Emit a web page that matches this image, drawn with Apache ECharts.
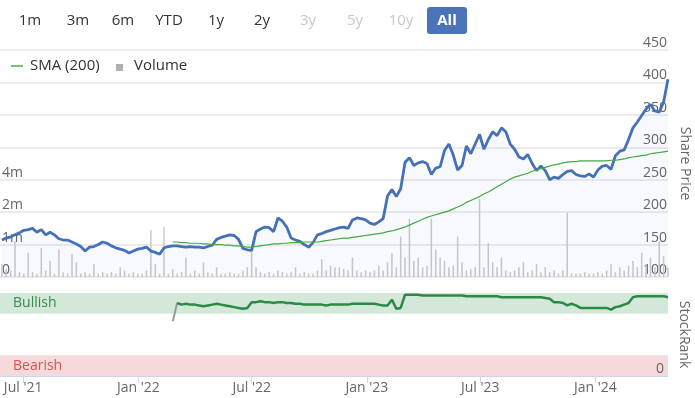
<!DOCTYPE html>
<html>
<head>
<meta charset="utf-8">
<script src="https://cdn.jsdelivr.net/npm/echarts@6/dist/echarts.min.js"></script>
<style>
  html, body { margin: 0; padding: 0; background: #fff; }
  #chart { width: 695px; height: 398px; }
</style>
</head>
<body>
<div id="chart"></div>
<script>
// weekly closes, first week ending 2021-05-28
const weekStart = '2021-05-28';
const priceValues = [
  157,160,162,165,168,172,173,175,169,173,
  165,169,165,159,157,157,154,151,147,140,
  146,147,150,154,152,148,145,143,141,137,
  140,143,144,146,140,138,135,145,147,148,
  148,147,146,147,146,146,145,147,149,158,
  161,163,165,164,158,144,142,141,170,174,
  177,176,170,191,186,177,160,157,155,150,
  146,153,165,167,170,172,174,176,177,175,
  188,191,190,188,183,181,185,190,225,235,
  224,236,277,284,272,276,278,275,258,268,
  270,295,305,288,265,272,302,290,305,320,
  297,312,324,318,330,324,305,297,285,282,
  289,275,264,271,264,250,254,252,258,263,
  264,258,256,255,259,254,265,271,272,266,
  287,294,296,312,330,339,349,359,366,356,
  354,370,405
];
// volume in millions
const volumeValues = [
  0.4,0.25,0.2,1.1,0.15,0.1,0.75,0.15,0.1,0.9,
  0.2,0.5,0.1,0.85,0.15,0.1,0.7,0.45,0.1,0.15,
  0.1,0.4,0.1,0.15,0.1,0.15,0.1,0.3,0.2,0.1,
  0.15,0.1,0.1,0.2,1.45,0.4,0.1,1.55,0.1,0.25,
  0.1,0.15,0.6,0.1,0.2,0.1,0.45,0.15,0.1,0.3,
  0.1,0.1,0.15,0.1,0.1,0.2,0.3,0.85,0.3,0.15,
  0.1,0.15,0.1,0.2,0.15,0.1,0.15,0.3,0.1,0.15,
  0.1,0.1,0.2,0.55,0.2,0.35,0.3,0.3,0.25,0.2,
  0.6,0.2,0.15,0.2,0.15,0.2,0.35,0.2,0.45,0.75,
  0.3,1.25,0.6,1.8,0.5,0.6,0.3,0.35,1.8,0.85,
  0.6,0.5,0.3,0.35,1.25,0.45,0.2,0.25,0.3,2.4,
  0.3,1.05,0.45,0.3,0.6,0.2,0.15,0.2,0.3,0.45,
  0.15,0.2,0.4,0.15,0.3,0.15,0.2,0.1,0.2,2.0,
  0.1,0.1,0.1,0.15,0.1,0.1,0.15,0.1,0.2,0.4,
  0.15,0.3,0.2,0.35,0.5,0.3,0.75,0.4,0.6,0.3,
  1.1,0.65,0.3
];
// SMA(200) and StockRank start at week 39
const smaStartWeek = 39;
const smaValues = [
  154,154,153,153,152,152,152,151,151,150,
  150,150,149,149,148,148,147,146,146,147,
  148,149,150,151,151,152,152,153,153,153,
  154,154,154,154,155,156,157,158,159,160,
  160,161,162,163,164,165,166,167,168,170,
  171,173,175,177,180,183,186,189,192,194,
  196,198,200,202,205,208,211,215,218,221,
  224,228,231,235,239,243,247,251,254,256,
  258,260,263,265,267,269,271,273,274,276,
  277,278,278,279,279,279,279,279,279,279,
  280,280,281,282,284,285,286,287,288,290,
  291,292,293,294
];
const rankValues = [
  66,88,86,87,86,86,85,84,85,86,
  87,86,85,84,83,82,81,82,89,89,
  90,89,89,88,89,89,88,88,87,87,
  86,86,86,86,86,85,86,86,86,86,
  86,87,87,87,87,87,87,86,85,85,
  92,81,82,98,98,98,98,97,97,97,
  97,97,97,97,97,97,97,96,96,96,
  96,96,96,96,96,95,95,95,95,95,
  95,95,95,95,95,94,93,89,89,88,
  85,87,85,82,82,82,82,82,82,82,
  80,83,84,86,88,95,96,96,96,96,
  96,96,96,95
];
const xTickDates = ['2021-07-01','2022-01-01','2022-07-01','2023-01-01','2023-07-01','2024-01-01'];
const xTickLabels = ["Jul '21","Jan '22","Jul '22","Jan '23","Jul '23","Jan '24"];
const volTickLabels = ['0','1m','2m','4m'];
const rangeButtons = ['1m','3m','6m','YTD','1y','2y','3y','5y','10y','All'];
const disabledButtons = ['3y','5y','10y'];

const DAY = 86400000;
const toTime = d => new Date(d + 'T00:00:00Z').getTime();
const t0 = toTime(weekStart);
const weekDates = priceValues.map((_, i) => t0 + i * 7 * DAY);
const tickTimes = xTickDates.map(toTime);
const xMin = toTime('2021-05-25');
const xMax = toTime('2024-04-26');

const priceData = priceValues.map((v, i) => [weekDates[i], v]);
const volumeData = volumeValues.map((v, i) => [weekDates[i], v]);
const smaData = smaValues.map((v, i) => [weekDates[smaStartWeek + i], v]);
const rankData = rankValues.map((v, i) => [weekDates[smaStartWeek + i], v]);

const FONT = '"Open Sans", "DejaVu Sans", sans-serif';

const btnX = [30, 78, 123, 169, 216, 262, 308, 355, 401, 447];
const graphics = [];
rangeButtons.forEach((b, i) => {
  if (b === 'All') {
    graphics.push({ type: 'rect', shape: { x: 427, y: 7, width: 40, height: 27, r: 3 }, style: { fill: '#4a73b9' } });
  }
  graphics.push({
    type: 'text', x: btnX[i], y: 21,
    style: {
      text: b, align: 'center', verticalAlign: 'middle', font: (b === 'All' ? 'bold ' : '') + '15px ' + FONT,
      fill: b === 'All' ? '#fff' : (disabledButtons.includes(b) ? '#c8c8c8' : '#333')
    }
  });
});
graphics.push(
  { type: 'line', shape: { x1: 11, y1: 66, x2: 23, y2: 66 }, style: { stroke: '#72c472', lineWidth: 2 } },
  { type: 'text', x: 30, y: 66, style: { text: 'SMA (200)', verticalAlign: 'middle', font: '15px ' + FONT, fill: '#333' } },
  { type: 'rect', shape: { x: 116, y: 64, width: 7, height: 7 }, style: { fill: '#b0b0b4' } },
  { type: 'text', x: 134, y: 66, style: { text: 'Volume', verticalAlign: 'middle', font: '15px ' + FONT, fill: '#333' } }
);

const chart = echarts.init(document.getElementById('chart'), null, { renderer: 'canvas' });
chart.setOption({
  animation: false,
  backgroundColor: '#fff',
  textStyle: { fontFamily: FONT },
  graphic: graphics,
  grid: [
    { left: 0, right: 27, top: 50, height: 227, outerBoundsMode: 'none', containLabel: false },
    { left: 0, right: 27, top: 293, height: 83, outerBoundsMode: 'none', containLabel: false }
  ],
  xAxis: [
    { type: 'value', gridIndex: 0, min: xMin, max: xMax, show: false, splitLine: { show: false } },
    {
      type: 'value', gridIndex: 1, min: xMin, max: xMax,
      axisLine: { show: true, lineStyle: { color: '#ccd6eb' } },
      axisTick: { show: true, customValues: tickTimes, length: 7, lineStyle: { color: '#ccd6eb' } },
      axisLabel: {
        customValues: tickTimes, color: '#666', fontSize: 14, margin: 5,
        formatter: v => xTickLabels[tickTimes.indexOf(v)] || ''
      },
      splitLine: { show: false }
    }
  ],
  yAxis: [
    {
      type: 'value', gridIndex: 0, position: 'right', min: 100, max: 450, interval: 50,
      axisLine: { show: false }, axisTick: { show: false },
      axisLabel: { inside: true, margin: 1, color: '#666', fontSize: 14, verticalAlign: 'bottom' },
      splitLine: { lineStyle: { color: '#e6e6e6', width: 1.5 } },
      name: 'Share Price', nameLocation: 'middle', nameRotate: -90, nameGap: 9,
      nameTextStyle: { color: '#666', fontSize: 14 }
    },
    {
      type: 'value', gridIndex: 0, position: 'left', min: 0, max: 7, interval: 1,
      axisLine: { show: false }, axisTick: { show: false }, splitLine: { show: false },
      axisLabel: {
        inside: true, margin: 2, color: '#666', fontSize: 14, verticalAlign: 'bottom',
        formatter: v => volTickLabels[v] || ''
      }
    },
    {
      type: 'value', gridIndex: 1, position: 'right', min: 0, max: 100, interval: 100, z: 10,
      axisLine: { show: false }, axisTick: { show: false }, splitLine: { show: false },
      axisLabel: { inside: true, margin: 4, color: '#666', fontSize: 14, verticalAlign: 'bottom', customValues: [0], showMinLabel: true },
      name: 'StockRank', nameLocation: 'middle', nameRotate: -90, nameGap: 9,
      nameTextStyle: { color: '#666', fontSize: 14 }
    }
  ],
  series: [
    {
      name: 'Volume', type: 'bar', xAxisIndex: 0, yAxisIndex: 1, data: volumeData,
      barWidth: 1.5, itemStyle: { color: '#c9c9cf' }, z: 1
    },
    {
      name: 'Price', type: 'line', xAxisIndex: 0, yAxisIndex: 0, data: priceData,
      symbol: 'none', lineStyle: { color: '#4571b9', width: 2.8 },
      areaStyle: { color: 'rgba(69,113,185,0.06)', origin: 'start' }, z: 3
    },
    {
      name: 'SMA (200)', type: 'line', xAxisIndex: 0, yAxisIndex: 0, data: smaData,
      symbol: 'none', lineStyle: { color: '#45a845', width: 1.2 }, z: 4
    },
    {
      name: 'RankStart', type: 'line', xAxisIndex: 1, yAxisIndex: 2, data: rankData.slice(0, 2),
      symbol: 'none', lineStyle: { color: '#999', width: 2 }, z: 3
    },
    {
      name: 'StockRank', type: 'line', xAxisIndex: 1, yAxisIndex: 2, data: rankData.slice(1),
      symbol: 'none', lineStyle: { color: '#2a8a45', width: 2.5 }, z: 4,
      markArea: {
        silent: true,
        data: [
          [{ name: 'Bullish', yAxis: 75, itemStyle: { color: '#d4e8da' },
             label: { color: '#3a8a48', fontSize: 14, position: 'insideLeft', distance: 13 } }, { yAxis: 100 }],
          [{ name: 'Bearish', yAxis: 0, itemStyle: { color: '#f5d9db' },
             label: { color: '#d9534f', fontSize: 14, position: 'insideLeft', distance: 13 } }, { yAxis: 25 }]
        ]
      }
    }
  ]
});
</script>
</body>
</html>
